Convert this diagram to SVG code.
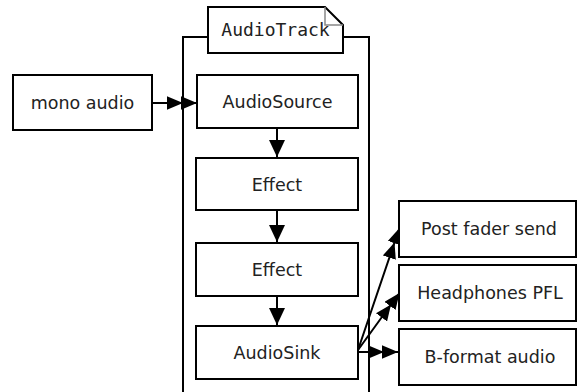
<svg xmlns="http://www.w3.org/2000/svg" width="577" height="392" viewBox="0 0 577 392">
<style>
.box{fill:#fff;stroke:#000;stroke-width:2}
.lbl{font-family:"DejaVu Sans",sans-serif;font-size:17.5px;fill:#222;text-anchor:middle}
.mono{font-family:"DejaVu Sans Mono",monospace;font-size:18px;fill:#222;text-anchor:middle}
.edge{fill:none;stroke:#000;stroke-width:2;marker-mid:url(#ah);marker-end:url(#ah)}
.edge1{fill:none;stroke:#000;stroke-width:2;marker-end:url(#ahv)}
</style>
<defs>
<marker id="ah" markerUnits="userSpaceOnUse" markerWidth="16" markerHeight="14" refX="14" refY="6" orient="auto" viewBox="0 0 14 12">
<path d="M0,0 L14,6 L0,12 Z" fill="#000"/>
</marker>
<marker id="ahv" markerUnits="userSpaceOnUse" markerWidth="17" markerHeight="16" refX="17" refY="8" orient="auto" viewBox="0 0 17 16">
<path d="M0,0 L17,8 L0,16 Z" fill="#000"/>
</marker>
</defs>
<rect width="577" height="392" fill="#fff"/>
<g id="cluster">
<path d="M208,37 L183,37 L183,400 M343,37 L369,37 L369,400" fill="none" stroke="#000" stroke-width="2"/>
<path d="M208,7 L325,7 L343,25 L343,53 L208,53 Z" class="box"/>
<path d="M325,7 L325,25 L343,25" fill="none" stroke="#888" stroke-width="1.5"/>
<text class="mono" x="275.5" y="36">AudioTrack</text>
</g>
<g id="connectors">
<path class="edge" d="M152,103 L183,103 L197,103"/>
<path class="edge1" d="M277,128 L277,157"/>
<path class="edge1" d="M277,211 L277,242"/>
<path class="edge1" d="M277,297 L277,325"/>
<path class="edge" d="M358,350 L394.5,242.5 L399.5,228"/>
<path class="edge" d="M358,350 L391,304.5 L399.5,293"/>
<path class="edge" d="M358,352 L384,352 L398,352"/>
</g>
<g id="mono_audio"><rect class="box" x="13" y="75" width="139" height="55"/><text class="lbl" x="82.5" y="108.5">mono audio</text></g>
<g id="AudioSource"><rect class="box" x="197" y="75" width="161" height="53"/><text class="lbl" x="277.5" y="108">AudioSource</text></g>
<g id="Effect1"><rect class="box" x="196" y="158" width="162" height="52"/><text class="lbl" x="277" y="190.5">Effect</text></g>
<g id="Effect2"><rect class="box" x="196" y="243" width="162" height="53"/><text class="lbl" x="277" y="275.5">Effect</text></g>
<g id="AudioSink"><rect class="box" x="196" y="326" width="162" height="53"/><text class="lbl" x="277" y="358.5">AudioSink</text></g>
<g id="post_fader"><rect class="box" x="399" y="201" width="177" height="56"/><text class="lbl" x="489" y="235">Post fader send</text></g>
<g id="headphones"><rect class="box" x="399" y="265" width="177" height="56"/><text class="lbl" x="490" y="299">Headphones PFL</text></g>
<g id="bformat"><rect class="box" x="399" y="329" width="177" height="56"/><text class="lbl" x="490" y="363">B-format audio</text></g>
</svg>
